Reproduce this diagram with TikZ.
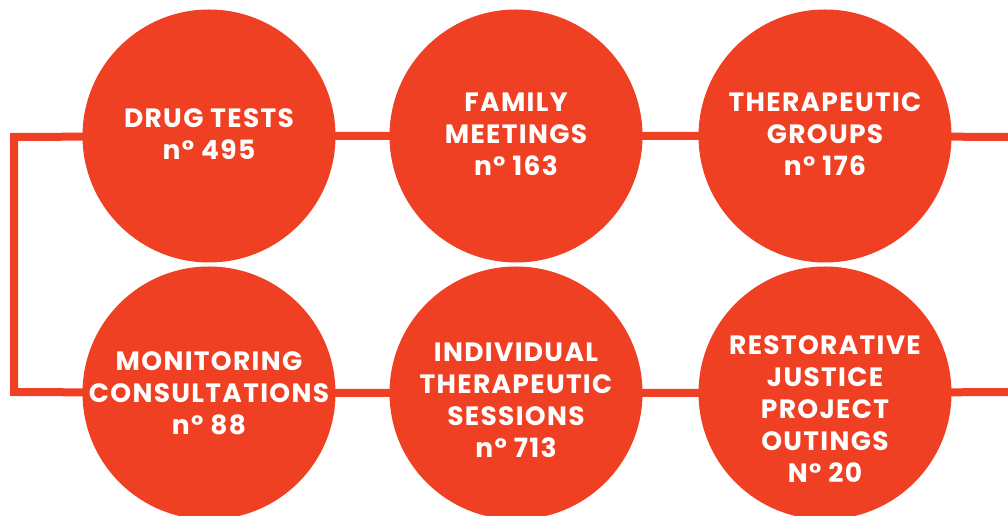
\documentclass[tikz,border=0pt]{standalone}
\usepackage{fontspec}
\setmainfont{Poppins}[LetterSpace=5]
\usetikzlibrary{backgrounds}
\definecolor{brandred}{RGB}{239,64,35}

\begin{document}
\begin{tikzpicture}[x=1pt,y=1pt,
  disc/.style={circle,fill=brandred,minimum size=253pt,inner sep=0pt},
  lbl/.style={text=white,align=center,font=\bfseries\fontsize{26.5}{32}\selectfont},
  link/.style={draw=brandred,line width=8pt,line join=miter}]
\useasboundingbox (0,0) rectangle (1008,516);
% top row, left to right
\node[disc,label={[lbl,yshift=2pt]center:DRUG TESTS\\n° 495}] (drug) at (209,380) {};
\node[disc,label={[lbl,yshift=2pt]center:FAMILY\\MEETINGS\\n° 163}] (family) at (516,380) {};
\node[disc,label={[lbl,yshift=2pt]center:THERAPEUTIC\\GROUPS\\n° 176}] (groups) at (825,380) {};
% bottom row, left to right
\node[disc,label={[lbl]center:MONITORING\\CONSULTATIONS\\n° 88}] (monitor) at (209,123) {};
\node[disc,label={[lbl,yshift=-7pt]center:INDIVIDUAL\\THERAPEUTIC\\SESSIONS\\n° 713}] (individual) at (516,123) {};
\node[disc,label={[lbl,yshift=-16pt]center:RESTORATIVE\\JUSTICE\\PROJECT\\OUTINGS\\N° 20}] (restore) at (825,123) {};
% the line behind the circles
\coordinate (outtop) at (1008,379);
\coordinate (cornertop) at (14,379);
\coordinate (cornerbot) at (14,124);
\coordinate (outbot) at (1008,124);
\begin{scope}[on background layer]
\draw[link] (outtop) -- (groups.center) -- (family.center) -- (drug.center) -- (cornertop)
  -- (cornerbot) -- (monitor.center) -- (individual.center) -- (restore.center) -- (outbot);
\end{scope}
\end{tikzpicture}
\end{document}
